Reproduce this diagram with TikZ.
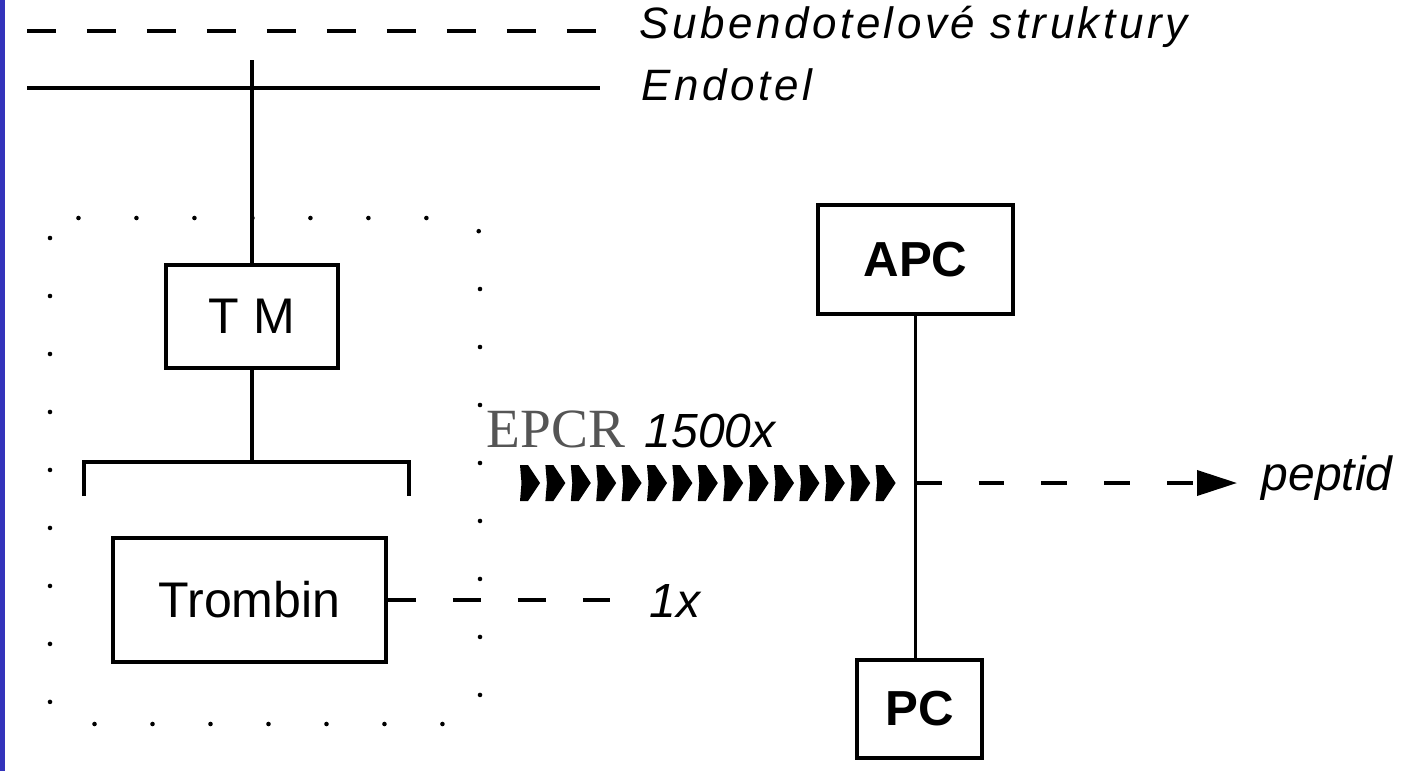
\documentclass[tikz,border=0pt]{standalone}
\usepackage{fontspec}
\setmainfont{Liberation Sans}
\newfontfamily\serifepcr{Liberation Serif}
\newfontfamily\tracked[LetterSpace=8]{Liberation Sans}
\usetikzlibrary{arrows.meta, positioning, calc}
\definecolor{okraj}{RGB}{51,51,187}
\definecolor{seda}{RGB}{85,85,85}

\begin{document}
\begin{tikzpicture}[x=0.02cm, y=-0.02cm, line width=2.1pt,
    box/.style={draw, inner sep=0pt, font=\fontsize{28.5}{30}\selectfont},
    tucny/.style={box, font=\fontsize{28}{30}\selectfont\bfseries},
    vrstva/.style={font=\fontsize{25}{28}\selectfont\tracked\itshape, anchor=base west, inner sep=0pt},
    popis/.style={font=\fontsize{27.3}{30}\selectfont\itshape, anchor=base west, inner sep=0pt}]
    \useasboundingbox (0,0) rectangle (1412,771);
    \fill[okraj] (0,0) rectangle (5,771);
    % vrstvy
    \coordinate (sub0) at (27,31);
    \coordinate (sub1) at (596,31);
    \coordinate (endo0) at (27,88);
    \coordinate (endo1) at (600,88);
    \draw[dash pattern=on 0.58cm off 0.62cm] (sub0) -- (sub1);
    \draw (endo0) -- (endo1);
    \node[vrstva] (sub) at (638,38) {Subendotelové struktury};
    \node[vrstva] (endo) at (640,100) {Endotel};
    % TM a trombin
    \draw[line width=2.6pt, dash pattern=on 0pt off 1.16cm, line cap=round, rounded corners=0.4cm] (50,218) rectangle (480,724);
    \node[box, minimum width=3.44cm, minimum height=2.06cm] (tm) at (252,316.5) {T M};
    \node[box, minimum width=5.46cm, minimum height=2.48cm] (trombin) at (249.5,600) {Trombin};
    \coordinate (tmtop) at (252,60);
    \coordinate (brace) at (252,462);
    \coordinate (braceL) at (84,496);
    \coordinate (braceR) at (409,496);
    \draw (tmtop) -- (tm);
    \draw (tm) -- (brace);
    \draw (braceL) |- (brace) -| (braceR);
    \coordinate (onex) at (610,600);
    \draw[dash pattern=on 0.56cm off 0.74cm] (trombin) -- (onex);
    \node[popis] (jedna) at (648,617) {1x};
    % APC a PC
    \node[tucny, minimum width=3.9cm, minimum height=2.18cm] (apc) at (915.5,259.5) {APC};
    \node[tucny, minimum width=2.5cm, minimum height=1.96cm] (pc) at (919.5,709) {PC};
    \draw (apc) -- (apc.south |- pc.north);
    \coordinate (stred) at (apc.south |- 0,483);
    \coordinate (hrot) at (1237,483);
    \draw[-{Triangle[length=0.8cm, width=0.5cm]}, dash pattern=on 0.52cm off 0.74cm] (stred) -- (hrot);
    \node[popis] (peptid) at (1260,490) {peptid};
    % EPCR
    \node[font=\fontsize{31.5}{34}\selectfont\serifepcr, text=seda, anchor=base west, inner sep=0pt] (epcr) at (485,447) {EPCR};
    \node[popis] (rychlost) at (643,447) {1500x};
    \foreach \i in {0,...,14}
        \fill[shift={({520+25.4*\i},483)}] (0,-18) -- (8,-18) -- (20,0) -- (8,18) -- (0,18) -- (1.5,0) -- cycle;
\end{tikzpicture}
\end{document}
